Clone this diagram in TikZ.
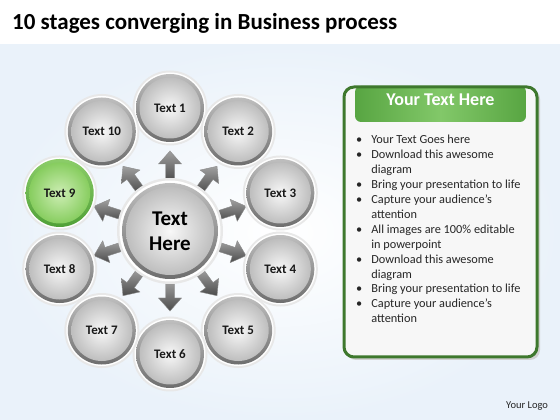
\documentclass[tikz,border=0pt]{standalone}
\usepackage{fontspec}
\setmainfont{Carlito}
\definecolor{bgblue}{RGB}{234,242,250}
\definecolor{rimT}{RGB}{190,190,190}
\definecolor{rimB}{RGB}{110,110,110}
\definecolor{inT}{RGB}{248,248,248}
\definecolor{inB}{RGB}{190,190,190}
\definecolor{grimT}{RGB}{140,205,105}
\definecolor{grimB}{RGB}{80,160,55}
\definecolor{ginT}{RGB}{205,238,180}
\definecolor{ginB}{RGB}{135,205,95}
\definecolor{pgreen}{RGB}{62,120,45}
\definecolor{hgreenA}{RGB}{88,165,66}
\definecolor{hgreenB}{RGB}{130,200,105}
\definecolor{arrD}{RGB}{75,75,75}
\definecolor{arrL}{RGB}{160,160,160}
\tikzset{
  halo/.style={fill=black!9},
  lbl/.style={font=\fontsize{13}{15}\selectfont\bfseries, text=black!90},
  blockarrow/.style={top color=arrL, bottom color=arrD, draw=black!45, line width=0.4pt},
}
\begin{document}
\begin{tikzpicture}[x=1pt,y=1pt]
\useasboundingbox (0,0) rectangle (560,420);
\fill[white] (0,0) rectangle (560,420);
\shade[inner color=white, outer color=bgblue] (0,0) rectangle (560,375);
% title
\node[anchor=base west, inner sep=0, font=\fontsize{23}{26}\selectfont\bfseries] (title) at (12,390) {10 stages converging in Business process};
% center
\coordinate (C) at (170,189);
% arrows
\foreach \k in {1,...,10}{
  \pgfmathsetmacro{\a}{90-36*(\k-1)}
  \begin{scope}[shift={(C)}, rotate=\a]
    \shade[blockarrow] (50,-4.5) -- (67,-4.5) -- (67,-11.5) -- (80,0) -- (67,11.5) -- (67,4.5) -- (50,4.5) -- cycle;
  \end{scope}
}
% center circle
\fill[halo] (C) circle (53);
\fill[white] (C) circle (50.5);
\shade[top color=rimT, bottom color=rimB] (C) circle (48);
\shade[inner color=inT, outer color=inB] (C) circle (44);
\node[align=center, font=\fontsize{21}{25}\selectfont\bfseries] (center) at (C) {Text\\Here};
% stage circles
\foreach \k in {1,...,10}{
  \pgfmathsetmacro{\a}{90-36*(\k-1)}
  \path (C) ++(\a:116pt and 123pt) coordinate (p\k);
  \ifnum\k=9
    \def\rt{grimT}\def\rb{grimB}\def\it{ginT}\def\ib{ginB}
  \else
    \def\rt{rimT}\def\rb{rimB}\def\it{inT}\def\ib{inB}
  \fi
  \fill[halo] (p\k) circle (37.5);
  \fill[white] (p\k) circle (35.5);
  \shade[top color=\rt, bottom color=\rb] (p\k) circle (34);
  \shade[inner color=\it, outer color=\ib] (p\k) circle (30.5);
  \node[lbl] (t\k) at (p\k) {Text \k};
}
% right panel
\fill[black!18, rounded corners=10] (346,60) rectangle (540,331);
\fill[black!3, rounded corners=10] (344,63) rectangle (537,333);
\shade[left color=hgreenA, right color=hgreenA, middle color=hgreenB, rounded corners=6] (355,298) rectangle (526,334);
\draw[pgreen, line width=3, rounded corners=10] (344,63) rectangle (537,333);
\node[anchor=base, inner sep=0, text=white, font=\fontsize{18}{20}\selectfont\bfseries] (head) at (440.5,314) {Your Text Here};
\node[anchor=base west, inner sep=0, font=\fontsize{12.3}{14.9}\selectfont, text=black!85] (list) at (356,276) {%
\begin{tabular}[t]{@{}l@{\hspace{9pt}}l@{}}
\textbullet & Your Text Goes here\\
\textbullet & Download this awesome\\
 & diagram\\
\textbullet & Bring your presentation to life\\
\textbullet & Capture your audience’s\\
 & attention\\
\textbullet & All images are 100\% editable\\
 & in powerpoint\\
\textbullet & Download this awesome\\
 & diagram\\
\textbullet & Bring your presentation to life\\
\textbullet & Capture your audience’s\\
 & attention
\end{tabular}};
\node[anchor=base west, inner sep=0, font=\fontsize{10.5}{12}\selectfont, text=black!85] (logo) at (506,11) {Your Logo};
\end{tikzpicture}
\end{document}
